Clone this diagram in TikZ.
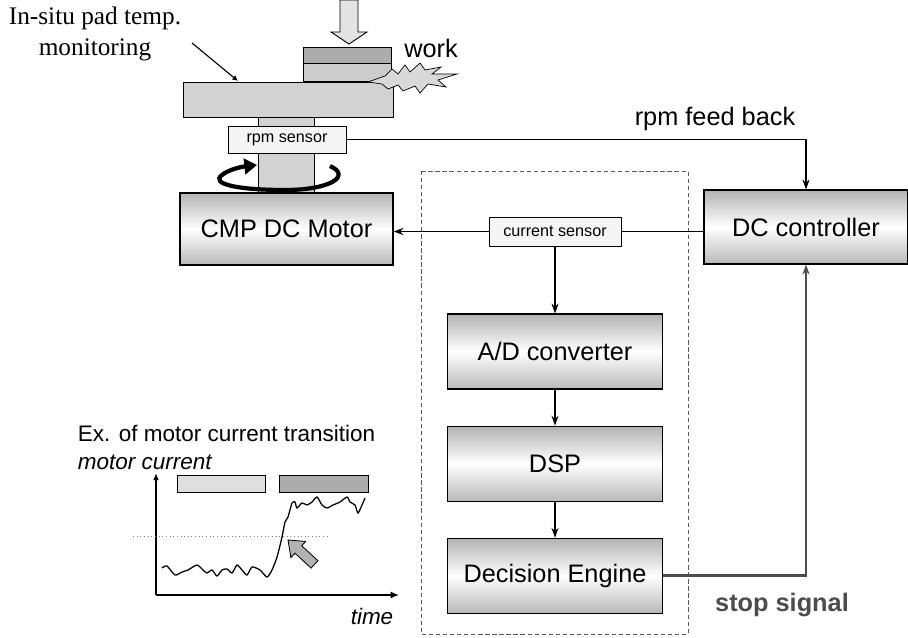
\documentclass[tikz,border=0pt]{standalone}
\usepackage{fontspec}
\setmainfont{Liberation Sans}
\newfontfamily\timesfont{Liberation Serif}
\usetikzlibrary{arrows.meta,positioning,shapes,calc}

\begin{document}
\begin{tikzpicture}[
  x=0.025cm, y=-0.025cm,
  box/.style={draw,line width=0.8pt,top color=gray!60,bottom color=gray!55,middle color=white,minimum width=5.375cm,minimum height=1.875cm,align=center,font=\fontsize{18}{20}\selectfont},
  sensor/.style={draw,line width=0.6pt,fill=gray!8,inner sep=0pt,font=\fontsize{11.5}{13}\selectfont},
  part/.style={draw,line width=0.6pt,fill=gray!35},
  arrow/.style={-{Stealth[length=7pt,width=5pt]},line width=1.1pt},
  lbl/.style={font=\fontsize{18}{20}\selectfont},
  small/.style={font=\fontsize{16}{18}\selectfont}
]
  \useasboundingbox (0,0) rectangle (908,638);

  % Polisher: press, wafer, shaft, pad
  \draw[part,fill=gray!22] (340,0) -- (358,0) -- (358,32) -- (367,32) -- (349,44) -- (331,32) -- (340,32) -- cycle;
  \draw[part,fill=gray!65] (303,47) rectangle (391,63);
  \draw[part,fill=gray!40] (303,63) rectangle (391,81);
  \draw[part] (258,110) rectangle (314,196);
  \node[part,minimum width=5.25cm,minimum height=0.875cm,inner sep=0pt] (pad) at (288,99.5) {};
  \draw[line width=0.5pt,fill=gray!30] (368,82) -- (385,76) -- (392,69) -- (398,74) -- (405,65) -- (410,72) -- (420,63)
    -- (425,70) -- (441,67) -- (432,74) -- (457,74) -- (438,80) -- (446,87) -- (428,84) -- (420,93) -- (415,86)
    -- (403,91) -- (398,85) -- (388,89) -- (382,84) -- cycle;
  \node[lbl] (work) at (431,48) {work};

  \node[sensor,minimum width=2.95cm,minimum height=0.675cm] (rpm) at (287,139.5) {rpm sensor};
  \node[box,minimum width=5.325cm,minimum height=1.8cm] (motor) at (286.5,229) {CMP DC Motor};
  % rotation of the platen
  \draw[line width=3pt,-{Triangle[length=9pt,width=11pt]}] (330,166) .. controls (352,176) and (330,190) .. (285,190)
    .. controls (238,190) and (210,184) .. (222,175) .. controls (228,170) and (240,167) .. (257,165);

  \node[font=\timesfont\fontsize{18}{22}\selectfont,align=center] (insitu) at (95,34) {In-situ pad temp.\\monitoring};
  \coordinate (lead) at (192,43);
  \coordinate (padtop) at (238,81);
  \draw[-{Latex[length=4pt,width=4pt]},line width=0.8pt] (lead) -- (padtop);

  % Controller and signal chain
  \node[box,minimum width=5.1cm,minimum height=1.85cm] (dc) at (806,227) {DC controller};
  \draw[gray!70!black,line width=0.7pt,dash pattern=on 3pt off 2pt] (421,171) rectangle (688,634);
  \node[sensor,minimum width=3.3cm,minimum height=0.725cm] (cs) at (555,231.5) {current sensor};
  \node[box] (ad) at (555,351.5) {A/D converter};
  \node[box,below=0.9cm of ad] (dsp) {DSP};
  \node[box,below=0.9cm of dsp] (dec) {Decision Engine};

  \draw[arrow] (rpm.east) -| (dc.north);
  \node[lbl] (fbk) at (715,119) {rpm feed back};
  \draw[line width=1.1pt] (cs.east) -- (cs.east -| dc.west);
  \draw[arrow] (cs.west) -- (cs.west -| motor.east);
  \draw[arrow] (cs) -- (ad);
  \draw[arrow] (ad) -- (dsp);
  \draw[arrow] (dsp) -- (dec);
  \draw[arrow,line width=2pt,gray!60!black] (dec.east) -| (dc.south);
  \node[font=\bfseries\fontsize{18}{20}\selectfont,text=gray!60!black] (stop) at (782,605) {stop signal};

  % Motor current example
  \node[small,anchor=west] (ex) at (73,433) {Ex. of motor current transition};
  \node[small,anchor=west,font=\itshape\fontsize{16}{18}\selectfont] (ylab) at (73,462) {motor current};
  \node[small,font=\itshape\fontsize{16}{18}\selectfont] (xlab) at (372,616) {time};
  \coordinate (o) at (156,595);
  \draw[-{Latex[length=5pt,width=4pt]},line width=1pt] (o) -- (156,473);
  \draw[-{Latex[length=6pt,width=5pt]},line width=1pt] (o) -- (399,595);
  \draw[gray,dotted,line width=0.6pt] (133,536) -- (328,536);
  \draw[fill=gray!25,line width=0.6pt] (177,475) rectangle (265,492);
  \draw[fill=gray!65,line width=0.6pt] (279,475) rectangle (368,492);
  \draw[line width=0.9pt] plot[smooth,tension=0.4] coordinates {(162,568) (167,566) (175,575) (182,572) (188,570)
    (197,565) (203,570) (207,573) (212,570) (217,576) (222,570) (227,569) (232,573) (237,565) (242,570) (247,575)
    (252,567) (260,570) (267,577) (272,570) (277,557) (282,537) (285,522) (288,517) (292,503) (295,502) (297,508)
    (302,503) (307,505) (312,502) (317,497) (322,505) (327,508) (333,505) (340,502) (347,497) (350,502) (355,505)
    (358,513) (362,505) (365,498)};
  \draw[line width=0.6pt,fill=gray!60] (288,540) -- (305.7,541.4) -- (301.7,545.8) -- (317.9,560.7) -- (311.1,568.1)
    -- (294.9,553.2) -- (290.9,557.6) -- cycle;
\end{tikzpicture}
\end{document}
